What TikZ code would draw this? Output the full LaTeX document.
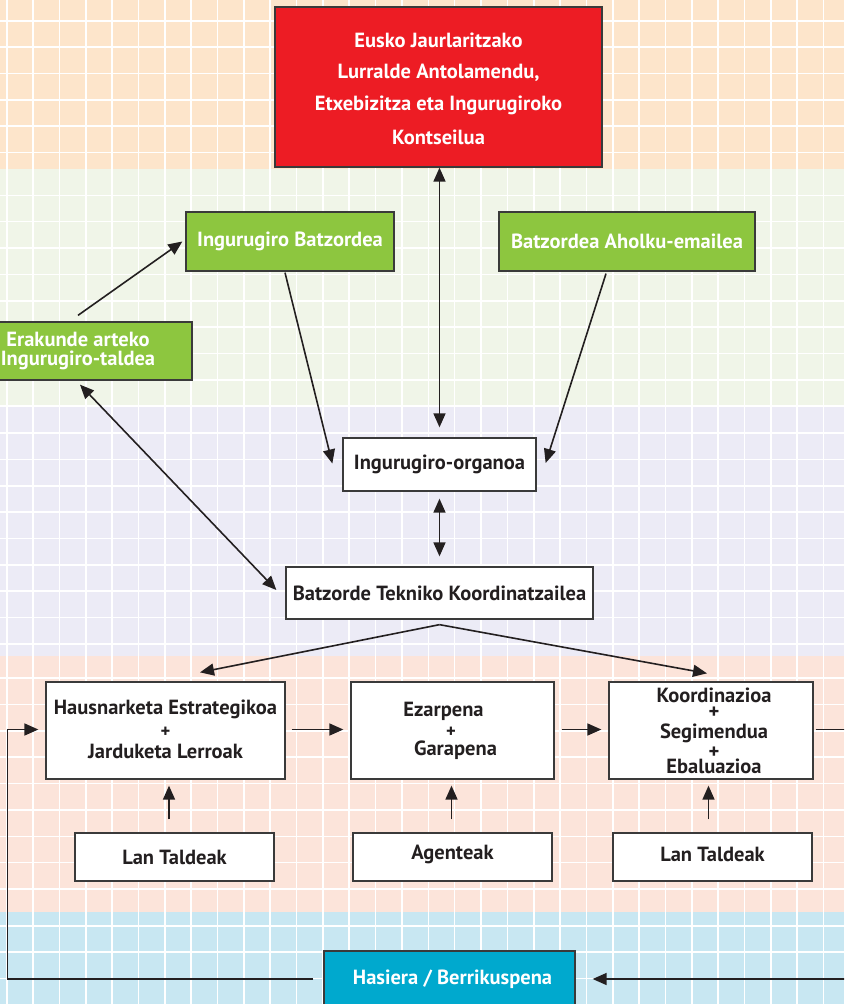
\documentclass[tikz,border=0pt]{standalone}
\usepackage{fontspec}
\setmainfont{PT Sans}
\usetikzlibrary{arrows.meta,calc}
\definecolor{bgOrange}{HTML}{FDE5CB}
\definecolor{bgGreen}{HTML}{F0F5E8}
\definecolor{bgLav}{HTML}{ECEBF6}
\definecolor{bgSalmon}{HTML}{FCE4DA}
\definecolor{bgBlue}{HTML}{C8E7F2}
\definecolor{boxRed}{HTML}{ED1C24}
\definecolor{boxGreen}{HTML}{8DC63F}
\definecolor{boxCyan}{HTML}{00A9CE}
\definecolor{ink}{HTML}{231F20}
\definecolor{edge}{HTML}{3A3A3A}
\tikzset{
  basebox/.style={draw=edge, line width=1.3pt, inner sep=0pt, font=\fontsize{20.5}{24}\selectfont\bfseries},
  whitebox/.style={basebox, fill=white, text=ink},
  redbox/.style={basebox, fill=boxRed, text=white},
  greenbox/.style={basebox, fill=boxGreen, text=white},
  cyanbox/.style={basebox, fill=boxCyan, text=white},
  lbl/.style={inner sep=0pt, font=\fontsize{20.5}{24}\selectfont\bfseries, text=ink},
  plbl/.style={inner sep=0pt, font=\fontsize{18.5}{20}\selectfont\bfseries, text=ink},
  stack/.style={inner sep=0pt, align=center, font=\fontsize{20.5}{16}\selectfont\bfseries, text=ink},
  wlbl/.style={lbl, text=white},
  arr/.style={draw=ink, line width=1.6pt, -{Triangle[length=14pt,width=12pt]}},
  darr/.style={draw=ink, line width=1.6pt, {Triangle[length=14pt,width=12pt]}-{Triangle[length=14pt,width=12pt]}},
  ln/.style={draw=ink, line width=1.6pt},
  gridline/.style={draw=white, line width=1.6pt}
}
\begin{document}
\begin{tikzpicture}[x=1pt,y=-1pt]
\useasboundingbox (0,0) rectangle (844,1004);
\clip (0,0) rectangle (844,1004);
% bands
\fill[bgOrange] (0,0) rectangle (844,169.3);
\fill[bgGreen] (0,169.3) rectangle (844,406.5);
\fill[bgLav] (0,406.5) rectangle (844,655.5);
\fill[bgSalmon] (0,655.5) rectangle (844,912);
\fill[bgBlue] (0,912) rectangle (844,1004);
% grid
\foreach \i in {0,...,32} \draw[gridline] ({6.7+26.35*\i},0) -- ({6.7+26.35*\i},1004);
\foreach \i in {0,...,5} \draw[gridline] (0,{20.7+26.35*\i}) -- (844,{20.7+26.35*\i});
\foreach \i in {0,...,8} \draw[gridline] (0,{195.3+26.35*\i}) -- (844,{195.3+26.35*\i});
\foreach \i in {0,...,8} \draw[gridline] (0,{433+26.35*\i}) -- (844,{433+26.35*\i});
\foreach \i in {0,...,8} \draw[gridline] (0,{678.2+26.35*\i}) -- (844,{678.2+26.35*\i});
\foreach \i in {0,...,3} \draw[gridline] (0,{925.7+26.35*\i}) -- (844,{925.7+26.35*\i});

% boxes
\node[redbox, minimum width=327pt, minimum height=160pt] (red) at (438.5,87) {};
\node[wlbl] (red1) at (438.5,40) {Eusko Jaurlaritzako};
\node[wlbl] (red2) at (438.5,73) {Lurralde Antolamendu,};
\node[wlbl] (red3) at (438.5,105) {Etxebizitza eta Ingurugiroko};
\node[wlbl] (red4) at (438.5,137) {Kontseilua};

\node[greenbox, minimum width=208pt, minimum height=59pt] (IB) at (290,241.5) {Ingurugiro Batzordea};
\node[greenbox, minimum width=256pt, minimum height=59pt] (BA) at (627,241.5) {Batzordea Aholku-emailea};
\node[greenbox, minimum width=232pt, minimum height=58pt] (ER) at (76,351) {};
\node[wlbl] (er1) at (78,339) {Erakunde arteko};
\node[wlbl] (er2) at (78,360) {Ingurugiro-taldea};

\node[whitebox, minimum width=193pt, minimum height=53pt] (IO) at (439.5,464.5) {Ingurugiro-organoa};
\node[whitebox, minimum width=307pt, minimum height=52pt] (BT) at (439.5,593) {Batzorde Tekniko Koordinatzailea};

\node[whitebox, minimum width=239pt, minimum height=97pt] (HE) at (165.5,730.5) {};
\node[lbl] (he1) at (165.5,709) {Hausnarketa Estrategikoa};
\node[plbl] (he2) at (165.5,732) {+};
\node[lbl] (he3) at (165.5,751) {Jarduketa Lerroak};

\node[whitebox, minimum width=203pt, minimum height=97pt] (EZ) at (452.5,730.5) {};
\node[lbl] (ez1) at (443.5,711) {Ezarpena};
\node[plbl] (ez2) at (451,732.5) {+};
\node[lbl] (ez3) at (455.5,750.5) {Garapena};

\node[whitebox, minimum width=204pt, minimum height=97pt] (KO) at (711,730.5) {};
\node[stack, anchor=north] (kotxt) at (714,688) {Koordinazioa\\+\\[4pt]Segimendua\\[4pt]+\\[-1pt]Ebaluazioa};

\node[whitebox, minimum width=199pt, minimum height=48pt] (LT1) at (174.5,857) {Lan Taldeak};
\node[whitebox, minimum width=199pt, minimum height=48pt] (AG) at (452.5,857) {};
\node[lbl] (ag1) at (452.5,854) {Agenteak};
\node[whitebox, minimum width=199pt, minimum height=48pt] (LT2) at (712.5,857) {};
\node[lbl] (lt2t) at (712.5,854) {Lan Taldeak};

\node[cyanbox, minimum width=251pt, minimum height=63pt] (HB) at (449.5,982.5) {};
\node[wlbl] (hbt) at (452.5,979) {Hasiera / Berrikuspena};

% connectors
\draw[darr] (red.south -| IO.north) -- ($(IO.north)+(0,-10)$);
\draw[arr] ($(IB.south)+(-5,1)$) -- ($(IO.west)+(-10,-1)$);
\draw[arr] ($(BA.south)+(-21,2)$) -- ($(IO.east)+(9,-1.5)$);
\draw[arr] ($(ER.north)+(2,-6)$) -- ($(IB.west)+(-3,0)$);
\draw[darr] ($(ER.south)+(4,4)$) -- ($(BT.west)+(-9,-3)$);
\draw[darr] ($(IO.south)+(0,7)$) -- ($(BT.north)+(0,-10)$);
\draw[arr] ($(BT.south)+(0,5)$) -- ($(HE.north)+(34.5,-9)$);
\draw[arr] ($(BT.south)+(0,5)$) -- ($(KO.north)+(-4,-8)$);
\draw[arr] ($(HE.east)+(6,-1)$) -- ($(EZ.west)+(-7,-1)$);
\draw[arr] ($(EZ.east)+(7,-1)$) -- ($(KO.west)+(-7,-1)$);
\coordinate (outR) at (846,729.5);
\draw[ln] ($(KO.east)+(2,-1)$) -- (outR);
\draw[arr] ($(LT1.north)+(-5.5,-13)$) -- ($(HE.south)+(3.5,6)$);
\draw[arr] ($(AG.north)+(-1,-13)$) -- ($(EZ.south)+(-1,6)$);
\draw[arr] ($(LT2.north)+(-4,-13)$) -- ($(KO.south)+(-2.5,6)$);
\coordinate (cornerL) at (7.5,729.5);
\draw[arr] ($(HB.west)+(-10,-3.5)$) -| (cornerL) -- ($(HE.west)+(-7,-1)$);
\coordinate (inR) at (846,979);
\draw[arr] (inR) -- ($(HB.east)+(17,-3.5)$);
\end{tikzpicture}
\end{document}
